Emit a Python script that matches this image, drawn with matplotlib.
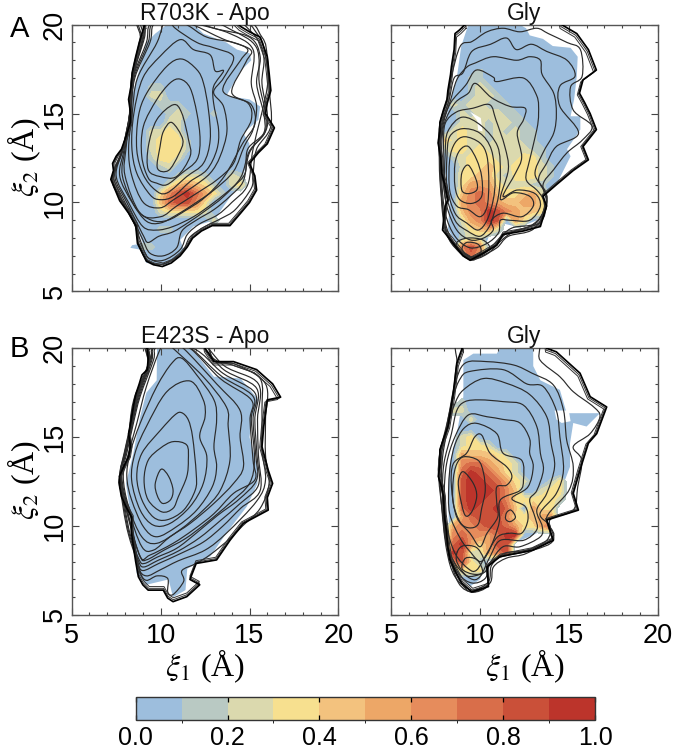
import numpy as np
import matplotlib
matplotlib.use("Agg")
import matplotlib.pyplot as plt
from matplotlib.path import Path
from matplotlib.patches import PathPatch, Polygon
from matplotlib.colors import ListedColormap, BoundaryNorm
from matplotlib.cm import ScalarMappable

plt.rcParams['font.family'] = ['Liberation Sans', 'DejaVu Sans']
plt.rcParams['mathtext.fontset'] = 'stix'

W, H = 677, 751
BIN_COLORS = ['#9DBEDD', '#B9C9C3', '#DBD9AE', '#F7E08F', '#F3C27E',
              '#EDA767', '#E68C5C', '#D96E4A', '#CA5039', '#BC342B']
COLOR_EDGES = [0, .1, .2, .3, .4, .5, .6, .7, .8, .9, 1.0]
COLOR_TICKS = [0, .2, .4, .6, .8, 1.0]
AXIS_TICKS = [5, 10, 15, 20]
TITLES = ['R703K - Apo', 'Gly', 'E423S - Apo', 'Gly']

# ---------- R703K Apo ----------
A1_EDGE = [(9.1,20),(8.95,19.5),(8.8,19),(8.6,18.2),(8.4,17.3),(8.35,16.6),(8.2,15.8),(8.3,15.1),(8.3,14.5),(8.05,13.7),(7.8,13),(7.5,12.6),(7.3,12.2),(7.35,11.8),(7.2,11.3),(7.45,10.7),(7.7,10.1),(8.2,9.4),(8.6,8.7),(8.65,8.2),(8.7,7.7),(8.95,7.2),(9.2,6.7),(9.6,6.5),(10.1,6.4),(10.6,6.6),(11.1,7),(11.5,7.5),(11.8,8),(12.3,8.4),(12.9,8.7),(13.9,8.7),(14.5,9.4),(15,10),(15.4,10.7),(15.3,11.5),(15,12.2),(15.5,12.8),(16,13.3),(16.4,14.2),(15.9,15),(16,15.6),(16.2,16.3),(16.1,17.3),(16,18.2),(15.6,19.3),(15,19.6),(14.5,19.9),(13.9,20.5),(9.1,20.5)]
A1_BLUE = [(10.35,20),(10.7,20),(12,19.9),(12.4,19.5),(13.7,19),(14.3,18.6),(15,18.4),(15.1,18),(14.5,17.4),(13.7,16),(15,15.8),(15.6,15.4),(15.5,14.65),(14.65,13.9),(15,13.3),(14.85,12.2),(14.5,11.1),(13.7,10),(13,9),(11.85,8.65),(11.1,7.9),(11.3,7.35),(10.35,6.5),(9.2,6.6),(8.85,7.35),(8.3,7.45),(8.4,7.6),(9,7.7),(8.65,8.65),(7.9,10.35),(7.35,11.65),(7.9,13),(8.4,14.65),(8.4,16),(8.85,17.65),(9.2,19),(9.7,19.5)]
A1_RINGS = [
 [(10.63,14.5),(11.25,13.53),(11,12.68),(10.44,11.8),(9.82,11.93),(9.97,13.15),(10.16,14)],
 [(10.72,15.5),(11.19,15.03),(11.57,13.53),(11.66,12.6),(10.9,11.46),(9.97,11.46),(9.31,11.84),(9.31,13.15),(9.78,14.65)],
 [(11.1,16.94),(11.66,16.44),(12.04,15.03),(12.22,13.53),(12.04,12.4),(11.19,11.65),(10.35,11),(9.78,11.09),(9.31,11.37),(8.94,12.6),(9.03,14.28),(9.78,15.78),(10.53,16.72)],
 [(11.19,18.07),(12.04,17.47),(12.41,16.72),(12.69,15.22),(12.79,13.53),(12.41,12.21),(11.47,11.46),(10.35,10.53),(9.69,10.71),(9.03,11.56),(8.66,12.96),(8.75,14.84),(9.22,16.15),(10.35,17.66)],
 [(11.1,19.16),(11.85,18.6),(12.79,18.3),(13.07,17.4),(13.54,17.4),(12.98,16.53),(12.98,15.6),(13.26,14.1),(13.16,12.96),(12.6,11.84),(11.66,11.18),(10.72,10.34),(9.97,10.16),(9.41,10.43),(8.66,11.65),(8.38,13.15),(8.5,15.03),(9,17),(9.97,18.22)],
 [(10.81,19.81),(12.04,19.0),(13.0,18.7),(14.1,18.2),(13.54,17.0),(12.98,16.2),(13.54,15.4),(13.73,14.0),(13.35,12.6),(12.79,11.65),(11.85,10.9),(10.72,10.15),(9.97,9.7),(9.03,10),(8.38,11.5),(8.2,13),(8.4,15),(8.7,17),(9.8,19),(10.3,20.4)],
 [(11.47,20),(12.6,19.3),(14.1,19),(14.9,18.6),(14.5,18),(13.5,16.3),(14.9,15.6),(15.1,14.65),(14.5,13.5),(14.1,12.2),(13.2,11.3),(12,10.5),(10.9,9.8),(10,9.2),(8.85,9.4),(8,11.5),(8.05,13),(8.32,15),(8.55,17),(9.4,19),(9.6,20),(10.5,20.4)],
 [(13.6,11.5),(12.5,10.3),(11.4,9.55),(10.4,9),(9.5,9.0),(8.6,9.7),(7.85,11.5),(8,13),(8.3,15),(8.5,17),(9.3,19),(9.5,20),(10.5,20.4),(11.8,20),(13.5,19.2),(15.05,18.6),(14.8,17.9),(14,16.2),(15.1,15.5),(15.3,14.4),(14.6,13.3)],
 [(14.1,11.75),(13,10.7),(12,10),(10.9,9.3),(10,8.85),(9.2,8.95),(8.4,10),(7.7,11.5),(7.95,13),(8.28,15),(8.45,17),(9.2,19),(9.4,20),(10.5,20.4),(12.2,20),(13.9,19.5),(15.2,18.6),(15.1,16.7),(15.4,15.4),(15.2,14.1),(14.7,13.15)],
 [(13,19.8),(15,19.3),(15.6,18.2),(15.4,16.7),(15.8,15),(15.8,13.9),(14.9,13),(14.75,11.65),(14.1,10.9),(13,10),(11.85,9.2),(10.7,8.65),(9.8,8.45),(9,8.65),(8.2,10),(7.5,11.5),(7.88,13),(8.27,15),(8.42,17),(9.1,19.3),(9.2,20.4),(11,20.5)],
 [(14.5,11.4),(13.5,10.3),(12.6,9.6),(11.6,8.9),(10.7,8.35),(9.9,8.1),(9.3,7.75),(9.05,8.1),(8.75,8.7),(8.1,10),(7.42,11.5),(7.86,13),(8.26,15),(8.42,17),(9.05,19.3),(9.2,20.5),(12,20.5),(14,19.7),(15.4,18.7),(15.55,16.7),(15.9,15),(15.85,13.9),(15,12.9)],
 [(14.65,11.2),(13.9,10.35),(13,9.6),(12,9),(11.2,8.4),(10.9,7.45),(10.15,7),(9.4,7.15),(9,7.9),(8.65,8.65),(8,10),(7.35,11.5),(7.85,13),(8.26,15),(8.41,17),(9,19.3),(9.15,20.5),(13.5,20.5),(15.2,19.5),(15.8,18.2),(15.7,16.7),(16,15),(15.9,14),(15,12.8)],
 [(14.9,11),(14,10),(13.2,9.3),(12.2,8.8),(11.5,8.2),(11.1,7.35),(10.15,6.75),(9.3,6.9),(8.85,7.9),(8.6,8.65),(7.9,10),(7.3,11.4),(7.83,12.9),(8.25,14.7),(8.38,17),(8.9,19.2),(9.12,20.5),(14,20.5),(15.5,19.4),(15.9,18.2),(16,16.5),(15.2,13)],
 [(15.1,10.8),(14.2,9.6),(13.4,9.1),(12.5,8.65),(11.65,8.05),(11.2,7.2),(10.15,6.55),(9.25,6.75),(8.75,7.7),(8.6,8.6),(8.1,9.6),(7.7,10.3),(7.28,11.3),(7.82,12.8),(8.22,14.7),(8.36,17),(8.85,19.2),(9.05,20.5),(14.3,20.5),(15.7,19.3),(16,18.2),(16.1,16.5),(16.2,14.3),(15.4,13),(15.2,11.6)],
 ]
A1_WARM = ['',
 '',
 '00011',
 '00022',
 '00001110',
 '00000121001',
 '00000220',
 '00022320',
 '00023331',
 '00023331',
 '00013320',
 '00001200',
 '00000012210021',
 '00000245431023',
 '00003689753100',
 '00004788630000',
 '00002333320',
 '00000000002',
 '00001100',
 '',
 '00110',
 ]

# ---------- R703K Gly ----------
A2_EDGE = [(9.15,20),(8.85,19.7),(8.6,19.5),(8.55,18.6),(8.4,17.65),(8.35,17.2),(8.3,16.9),(8.2,16.3),(8.15,15.8),(7.95,15.2),(7.75,14.5),(7.75,14),(7.65,13.35),(7.8,12.5),(7.85,11.65),(8.05,10.9),(8.2,10.15),(8.05,9.8),(8,9.4),(7.9,8.45),(8.5,7.7),(9.05,7),(9.45,6.75),(10.2,7.15),(10.95,7.6),(11.3,8.2),(12.45,8.4),(13.4,8.65),(13.75,9.8),(13.55,10.35),(14.3,11),(15.25,11.8),(16.1,12.4),(15.8,13.15),(16.55,14.1),(16.2,15),(15.9,15.6),(15.6,16.15),(15.8,16.9),(16.55,17.45),(16.1,18.6),(15.45,19.5),(14.6,20),(14.5,20.5),(9.15,20.5)]
A2_BLUE = [(9.35,20),(8.95,18.8),(8.7,17),(8.4,15.9),(7.95,14.2),(8,12),(8.3,10),(8.2,8.5),(9,7.1),(9.5,6.9),(10.2,7.3),(10.7,8.6),(11.4,8.8),(12.2,8.6),(13.2,9),(13.3,9.9),(13.55,10.35),(14.3,11),(15.1,12.6),(14.9,13),(15.65,14.1),(15.65,14.85),(15.1,14.85),(15.3,15.8),(15.45,17.1),(15.5,18.2),(15.1,18.7),(14.1,18.8),(13.55,19.2),(12.8,19.4),(12.6,19.8),(12.25,20)]
A2_HOLE = [(9.45,15.1),(10.05,14.75),(10.15,14),(9.9,14.05),(9.85,14.6)]
A2_RINGS = [
 [(9.35,12.1),(9.8,11.25),(9.82,10.7),(9.35,10.5),(8.98,10.7),(8.98,11.65)],
 [(9.35,13.15),(9.82,12.4),(10.1,11.45),(10.1,10.35),(9.55,9.95),(8.88,10.15),(8.6,10.9),(8.6,12.2),(8.88,12.95)],
 [(9.15,13.7),(10,13.35),(10.4,12.6),(10.5,11.1),(10.4,9.75),(10,9.2),(9.35,9.6),(8.7,9.8),(8.3,10.7),(8.3,12.4),(8.6,13.35)],
 [(9,14.15),(10,13.9),(10.65,12.96),(10.85,11.3),(10.75,10.15),(10.4,9),(9.9,8.45),(9.25,8.85),(8.6,9.4),(8.15,10.9),(8.15,12.6),(8.3,13.7)],
 [(9,14.8),(10.1,14.3),(11,13.15),(11.15,11.65),(11.05,10.4),(10.8,9.4),(10.5,8.6),(10,8.1),(9.3,8.4),(8.6,9),(8.05,10.7),(8.05,12.8),(8.2,14)],
 [(9.6,15.3),(10.55,15.5),(10.9,14.65),(11.4,13.15),(11.6,11.85),(11.15,10.2),(11.9,10.55),(12.8,10.35),(13,9.8),(12.35,9.2),(11.3,9.4),(10.65,9),(10.75,8.45),(10.2,8),(9.45,7.9),(8.7,8.45),(8.15,9.75),(7.95,11.3),(7.95,13.15),(8.05,14.45),(8.7,15.1)],
 [(9.75,16.7),(10.65,15.9),(11.7,15.4),(12.55,15.3),(12.45,14.65),(12.1,13.9),(12.35,12.55),(12,11.65),(11.3,10.35),(12.1,10.7),(13.1,10.5),(13.4,9.8),(12.8,9),(11.7,9),(11.15,9),(11.05,8.3),(10.4,7.7),(9.45,7.45),(8.6,8.1),(8.05,9.4),(7.85,11.3),(7.85,13.15),(8,14.45),(8.6,15.6),(9.35,16.15)],
 [(9.8,17.45),(10.75,17.05),(10.95,16.8),(12.45,17),(13.2,16),(13.3,15),(13.2,14.1),(12.8,12.4),(12.6,11.3),(13.2,10.7),(13.55,10.2),(13.6,9.6),(13.1,8.8),(11.9,8.6),(11.3,8.2),(10.4,7.3),(9.45,6.95),(8.5,7.8),(8,9.1),(7.8,11.3),(7.78,13.15),(7.95,14.45),(8.35,15.6),(9.2,16.6)],
 [(9.25,17.6),(9.75,17.85),(10.75,18.2),(12.05,18),(12.8,18.2),(13.4,18),(13.5,17.2),(14.15,16.15),(14.3,15),(14.15,13.9),(13.55,12.8),(13.1,11.6),(13.7,10.6),(13.75,9.9),(13.4,8.9),(12,8.4),(11.3,7.95),(10.4,7.1),(9.45,6.85),(8.4,7.7),(7.95,9),(7.78,11.3),(7.75,13.2),(7.9,14.45),(8.3,15.6),(8.7,16.9)],
 [(9.05,17.3),(9.55,18.5),(10.6,18.9),(11.5,19.25),(12.05,18.6),(12.9,18.9),(13.75,18.5),(14.9,18),(15.35,17.1),(14.5,16.55),(14.5,15.4),(15.55,13.9),(14.3,13.15),(13.75,12.2),(13.3,11.3),(13.75,10.35),(13.55,9.4),(12.8,8.65),(11.5,8.25),(10.75,7.5),(10,7),(9.45,6.8),(8.8,7.25),(8.15,8.3),(7.95,9.4),(7.75,11.3),(7.72,13.2),(7.85,14.45),(8.25,15.7),(8.55,17)],
 [(9.55,19.05),(10.4,19.6),(11.3,19.8),(12.25,19.6),(13.2,19.8),(13.85,19.5),(14.9,19),(15.65,18.6),(15.75,17.1),(15.1,16.5),(15.25,15.2),(16.3,14.3),(15.75,13.5),(14.9,12.8),(14.15,11.85),(13.55,11),(13.75,9.8),(13,8.5),(11.6,8.1),(10.95,7.45),(10,6.95),(9.45,6.78),(8.6,7.5),(8.05,8.45),(8.1,9.8),(7.9,11.3),(7.68,13.15),(7.75,14.45),(8.15,15.8),(8.4,17.1),(8.9,18.8)],
 [(9.25,7.75),(9.9,7.65),(10.05,7.2),(9.5,6.95),(9,7.35)],
 [(9.3,8.0),(10.15,7.9),(10.55,7.45),(10,7.1),(9.45,6.9),(8.85,7.3),(8.7,7.75)],
 ]
A2_WARM = [
 '00001',
 '00011',
 '00012100',
 '00012210',
 '02122111',
 '00212221100',
 '00222122110',
 '02322121211',
 '42322122211',
 '13323222221100',
 '01233322233100',
 '00233432333210',
 '00334421333210',
 '00355532221100',
 '00467643345200',
 '00567654455300',
 '00466986544310',
 '00256980530',
 '00134520000',
 '00122',
 '00686',
 '00575',
 ]

# ---------- E423S Apo ----------
B1_EDGE = [(9.25,20),(9.3,19.4),(9.25,18.8),(8.95,18.5),(8.8,18),(8.6,17.4),(8.5,16.9),(8.35,16),(8.2,15.2),(8.3,14.5),(8.2,13.9),(7.95,13.4),(7.68,12.8),(7.7,12.2),(7.8,11.65),(8.05,11.1),(8.37,10.5),(8.35,9.7),(8.47,8.85),(8.6,8),(8.75,7.15),(9,6.7),(9.3,6.4),(10.15,6.4),(10.4,5.95),(10.7,5.75),(11.47,6.03),(12.2,6.7),(11.65,7),(12,7.9),(13.15,8.1),(13.9,9.2),(14.65,10.15),(16.05,10.9),(16,11.6),(16.3,12.4),(16.05,13.15),(15.7,14.47),(15.8,15.6),(16,17.1),(16.75,17.25),(16.3,18),(15.4,18.8),(14.1,19.25),(13,19.25),(12.5,20),(12.4,20.5),(9.25,20.5)]
B1_BLUE = [(9.8,20),(11.75,20),(13,18.4),(13.25,18.4),(14.5,18.3),(15.5,17.1),(15.15,16.15),(15,15),(15.45,13.34),(15.45,12.4),(14.85,11.1),(13.7,9.6),(12.8,8.3),(11.5,7.6),(11.4,6.4),(10.7,6),(10.45,7),(9.2,6.7),(8.65,7.35),(8.55,8.65),(8.3,10.7),(8.05,12.4),(8.47,14.1),(8.85,16.15),(9.2,17.5),(9.78,18.2)]
B1_RINGS = [
 [(10.03,13.2),(10.45,12.8),(10.7,12.03),(10.55,11.47),(10.1,11.28),(9.8,11.75),(9.7,12.4)],
 [(10.7,14.75),(11.47,14.56),(11.56,13.72),(11.47,12.78),(11,11.66),(10.7,11),(10.07,10.8),(9.3,11.47),(9.07,12.6),(9.3,13.7),(9.97,14.37)],
 [(11.18,16.38),(11.56,15.97),(11.8,15),(12,13),(11.95,12.03),(11.3,10.9),(10.35,10.35),(9.6,10.5),(8.95,11.47),(8.66,12.78),(8.95,14.1),(10,15.4),(10.8,16.25)],
 [(11.66,18.16),(12.4,17.1),(12.5,16.15),(12.2,15.03),(12.6,13.9),(12.4,12.4),(11.66,11.1),(10.53,10.15),(9.6,10.05),(8.85,10.9),(8.37,12.6),(8.56,14.1),(9.2,15.6),(10.35,17.56)],
 [(11.19,19.44),(12.03,18.5),(13,17.1),(13.15,15.97),(13,14.47),(13.15,13.34),(12.9,12.2),(12.03,10.9),(10.9,9.97),(9.78,9.4),(9.03,9.97),(8.37,11.47),(8.1,12.78),(8.28,14.1),(8.85,15.78),(9.78,17.84),(10.63,19.16)],
 [(10.7,20),(12.4,18.4),(13.7,16.7),(13.8,15.6),(13.9,13.7),(13.35,12),(12.4,10.9),(11.1,9.8),(9.78,9.03),(8.94,9.4),(8.2,11.1),(7.9,12.8),(8.2,14.1),(8.66,15.78),(9.2,17.84),(10,20),(10.4,20.3)],
 [(11.28,20),(13.15,18),(14.47,16.5),(14.47,15),(14.66,13.34),(14.1,12.4),(13,11.28),(11.66,10.15),(10.53,9.4),(9.6,8.65),(8.94,8.85),(8.2,10.9),(7.82,12.8),(8.1,14.1),(8.47,15.78),(8.85,17.3),(9.6,19.34),(9.7,20),(10.5,20.4)],
 [(11.66,20),(13.35,18.3),(15.1,17.1),(15.03,15.97),(15.2,13.7),(15.3,12.6),(14.1,11.84),(13,10.7),(11.85,9.8),(10.7,9.03),(9.4,8.37),(8.85,8.28),(8.2,10.6),(7.77,12.8),(8.05,14.1),(8.42,15.8),(8.8,17.3),(9.5,19.3),(9.6,20),(10.5,20.4)],
 [(15,12.4),(13.9,11.3),(12.6,10.2),(11.4,9.3),(10.2,8.65),(9.2,8.1),(8.85,8.3),(8.25,10.2),(7.75,12.8),(8.02,14.1),(8.4,15.8),(8.75,17.3),(9.45,19.3),(9.55,20),(10.5,20.4),(11.7,20),(13.4,18.45),(15.2,17.3),(15.1,16),(15.28,13.8)],
 [(15.4,12.6),(14.4,11.5),(13.2,10.6),(12,9.6),(10.9,8.75),(9.8,8.25),(9.1,7.9),(8.8,8.1),(8.3,9.5),(8,11),(7.73,12.8),(8,14.1),(8.38,15.8),(8.7,17.3),(9.4,19.3),(9.5,20),(11.8,20),(13.5,18.6),(15.3,17.5),(15.2,16),(15.35,14)],
 [(15.5,12.3),(14.45,11.25),(13.35,10.3),(12.2,9.35),(11,8.6),(9.85,8.07),(9.05,7.7),(8.75,8.05),(8.25,9.5),(7.95,11),(7.71,12.8),(7.97,14.1),(8.35,15.8),(8.67,17.3),(9.37,19.3),(9.46,20.4),(11.9,20.4),(13.55,18.8),(15.4,17.75),(15.3,16),(15.42,14)],
 [(15.6,12),(14.5,11),(13.5,10),(12.4,9.1),(11,8.4),(9.9,7.9),(9,7.5),(8.7,8),(8.2,9.5),(7.9,11),(7.7,12.8),(7.95,14.1),(8.33,15.8),(8.65,17.3),(9.35,19.3),(9.42,20.5),(12,20.5),(13.6,19),(15.5,18),(15.45,16),(15.5,14)],
 [(15.4,11.4),(13.7,9.6),(12.5,8.65),(11,8.05),(10,7.55),(9.2,7.2),(8.75,7.7),(8.45,9.5),(8.1,10.8),(7.72,12.2),(7.75,12.9),(8.25,14.2),(8.3,15.8),(8.6,17.3),(9.3,19),(9.35,20.5),(12.2,20.5),(13,19.4),(14.2,19),(15.6,18.3),(15.7,16.5),(15.7,14.3),(15.9,12.6)],
 [(13.9,9.3),(12.8,8.4),(12,7.9),(11.2,7.5),(11.3,6.9),(10.7,6.15),(10.4,6.3),(10.4,7.05),(9.8,7.2),(9.2,6.95),(8.85,7.4),(8.55,8.7),(8.3,10.8),(7.7,12.2),(7.72,12.8),(8.22,14),(8.28,15.8),(8.55,17.3),(9.3,19),(9.3,20.5),(12.3,20.5),(13,19.3),(14.2,19.1),(15.9,18),(15.9,16),(15.9,14),(16.1,12.4),(15.6,11),(14.6,10)],
 ]

# ---------- E423S Gly ----------
B2_EDGE = [(9,20),(8.7,19.16),(8.6,18.3),(8.5,17.47),(8.35,16.5),(8.2,15.6),(7.95,14.9),(7.75,14.3),(7.75,13.5),(7.66,12.8),(7.85,12.2),(7.95,11.66),(8,10.6),(8.13,9.6),(8.2,8.8),(8.32,8.1),(8.65,7.4),(8.98,6.8),(9.54,6.3),(10.48,6.6),(10.4,7.7),(11.13,8.28),(12.97,8.65),(14.13,9.2),(13.76,10.34),(15.54,10.9),(15.25,11.84),(15.63,13.16),(16.1,14.66),(16.57,15.2),(17.13,16.7),(16.2,17.28),(15.63,18.6),(14.3,19.8),(13.76,20),(13.7,20.5),(9,20.5)]
B2_BLUE = [(11.13,20),(13,20),(13,19),(13.4,18.2),(14.5,17.66),(14.88,16.35),(16.75,16.35),(16,15.6),(15.25,15.8),(15.07,14.66),(15.07,13.34),(14.5,11.84),(13.4,10.8),(13.2,9.6),(11.5,8.84),(10.57,8.47),(10,7),(9.45,6.6),(8.9,7.15),(8.3,8.84),(8.2,11.84),(8.3,13.5),(8.7,15.2),(9.07,17.3),(9.07,19.34),(9.63,19.7),(10.95,19.7)]
B2_HOLE = [(14.2,16.5),(15.0,16.5),(15.1,15.9),(14.6,15.8),(14.3,16)]
B2_RINGS = [
 [(9.07,13.06),(9.63,12.4),(9.82,11.66),(9.54,10.8),(9.16,10.62),(8.85,11.84),(8.8,12.6)],
 [(9.1,13.9),(9.9,13.7),(10.2,13),(10.3,12),(10.1,11),(9.9,10.1),(9.4,9.9),(8.9,10.2),(8.5,11.3),(8.5,12.6),(8.7,13.5)],
 [(10.1,15.12),(10.57,14.1),(11.5,13.34),(11.8,12.78),(11.5,12.3),(10.95,12.2),(10.95,11.28),(11,10.5),(10.4,9.6),(10,8.84),(9.44,9.6),(8.7,10.5),(8.4,12.2),(8.5,13.5),(9.25,14.1),(9.7,15)],
 [(11.5,10.75),(11.75,10.9),(12,10.5),(11.7,10.25),(11.45,10.4)],
 [(9.82,15.78),(10.95,15.2),(11.3,14.1),(12.35,13.7),(12.45,12.6),(12.25,12),(11.15,11.47),(11.1,10.3),(10.8,9.3),(10.4,8.4),(10,8),(9.5,8.5),(8.9,9.3),(8.3,10.7),(8.25,12.3),(8.35,13.5),(8.6,14.6),(9.1,15.5)],
 [(9.35,16.25),(10.4,16.15),(11.3,16),(12.25,15.8),(12.8,14.9),(12.8,14.1),(13,13.34),(12.7,12.2),(11.8,11.56),(12.55,11.1),(12.7,10.35),(12.35,9.6),(11.7,9.6),(11,9.4),(10.4,8.47),(9.82,7.53),(9.35,7.6),(8.6,8.47),(8.13,10),(8,11.84),(8.13,13.53),(8.6,15.03)],
 [(9.16,17),(10,17.1),(11.3,17),(12.45,16.8),(13.2,15.6),(13.4,14.1),(13.57,13.16),(13.2,12),(12.8,11.47),(13.1,10.5),(13.2,9.8),(12.45,9.2),(11.15,9.2),(10.57,8.28),(10,7.15),(9.45,7.06),(8.6,7.9),(8.04,9.4),(7.9,11.84),(7.98,13.53),(8.4,15.2),(8.7,16.5)],
 [(9.07,17.66),(10.2,18.3),(11.5,18.03),(12.8,17.4),(13.76,16.15),(14,14.66),(14.2,13.34),(13.76,11.84),(13.2,10.9),(13.5,10),(13.4,9.4),(12.25,8.84),(11.3,8.84),(10.57,7.9),(10.3,7.06),(9.55,6.8),(8.8,7.34),(8.17,8.84),(7.95,11.1),(7.85,13.34),(8.2,15.6),(8.6,16.9)],
 [(8.9,18.3),(9.44,18.7),(11.3,18.8),(12.63,18),(13.57,17.84),(14.3,16.5),(14.5,15),(14.7,13.16),(14.3,11.84),(13.38,10.7),(13.94,10),(13.76,9.2),(12.63,8.65),(11.4,8.47),(10.66,7.8),(10.48,6.87),(9.54,6.4),(8.6,7.15),(8.13,8.65),(7.85,11.1),(7.75,13.34),(8.13,15.6),(8.5,17.3)],
 [(9.16,19.16),(10.4,19.25),(11.9,19.06),(12.93,18.6),(14.13,17.94),(14.7,16.53),(14.88,14.84),(15.25,13.34),(15,12),(13.76,10.5),(14.13,9.4),(12.63,8.47),(11.5,8.2),(10.76,7.7),(10.57,6.8),(9.63,6.3),(8.8,6.8),(8.2,8.65),(7.95,10.3),(7.68,12.8),(7.75,14.1),(8.2,16),(8.6,18)],
 [(9,20.5),(13,20.5),(13.38,19.34),(14.5,18.4),(15.25,17.56),(16.4,16.7),(16.75,16.15),(16.2,15.2),(15.25,14.47),(15.73,13.7),(15.5,12.2),(15.25,10.9),(13.94,10.35),(14.13,9.2),(13,8.65),(11.13,8.25),(10.4,7.7),(10.45,6.65),(9.54,6.28),(8.95,6.8),(8.3,8.1),(8.1,9.6),(7.92,11.66),(7.68,12.8),(7.77,14.3),(8.2,15.6),(8.5,17.47),(8.7,19.16)],
 [(9.2,8.2),(9.85,8.1),(10.15,7.4),(9.6,7.3),(9,7.6)],
 [(9.1,8.9),(9.8,8.8),(10.2,8.2),(10.35,7.5),(9.7,7.2),(9.2,7.25),(8.7,8),(8.75,8.6)],
 ]
B2_WARM = [
 '',
 '00100',
 '02200',
 '00020',
 '',
 '00230',
 '00233200',
 '00544432',
 '006775432',
 '0079875320',
 '00899875320013',
 '008999864002330',
 '00899886333332',
 '0079889740533',
 '00578886334550',
 '05667887533570',
 '067665799',
 '079535880',
 '09822568',
 '06831',
 '00333',
 '',
 ]

GRID_X = np.arange(8, 15.01, 0.5)
GRID_Y = np.arange(17.5, 6.49, -0.5)
PANEL_BOXES = [(71.7, 24.7), (391, 24.7), (71.7, 348.3), (391, 348.3)]
SIDE = 266.7
PANEL_DATA = [(A1_EDGE, A1_BLUE, A1_RINGS, A1_WARM, None),
              (A2_EDGE, A2_BLUE, A2_RINGS, A2_WARM, A2_HOLE),
              (B1_EDGE, B1_BLUE, B1_RINGS, None, None),
              (B2_EDGE, B2_BLUE, B2_RINGS, B2_WARM, B2_HOLE)]


def smooth_ring(pts):
    p = np.asarray(pts, float)
    n = len(p)
    verts, codes = [p[0]], [Path.MOVETO]
    for i in range(n):
        p0, p1, p2, p3 = p[i-1], p[i], p[(i+1) % n], p[(i+2) % n]
        verts += [p1 + (p2-p0)/6, p2 - (p3-p1)/6, p2]
        codes += [Path.CURVE4]*3
    return Path(verts, codes)


def warm_field(rows):
    z = np.zeros((len(GRID_Y), len(GRID_X)))
    for r, row in enumerate(rows):
        for c, ch in enumerate(row[:len(GRID_X)]):
            d = int(ch)
            z[r, c] = d/10 + 0.05 if d else 0
    return z


fig = plt.figure(figsize=(W/100, H/100), dpi=100)
cmap = ListedColormap(BIN_COLORS)
norm = BoundaryNorm(COLOR_EDGES, cmap.N)

for i, ((px, py), (edge, blue, rings, warm, hole)) in enumerate(zip(PANEL_BOXES, PANEL_DATA)):
    ax = fig.add_axes([px/W, 1-(py+SIDE)/H, SIDE/W, SIDE/H])
    ax.set_xlim(5, 20); ax.set_ylim(5, 20)
    ax.add_patch(Polygon(blue, closed=True, fc=BIN_COLORS[0], ec='none', zorder=1))
    if warm is not None:
        cs = ax.contourf(GRID_X, GRID_Y, warm_field(warm), levels=COLOR_EDGES[1:],
                         colors=BIN_COLORS[1:], zorder=2)
        cs.set_clip_path(Polygon(edge, closed=True, transform=ax.transData))
    if hole is not None:
        ax.add_patch(Polygon(hole, closed=True, fc='white', ec='none', zorder=3))
    for ring in rings:
        ax.add_patch(PathPatch(smooth_ring(ring), fc='none', ec='#2b2b2b', lw=0.85, zorder=4))
    e = np.asarray(edge)
    ctr = np.array([11.5, 13.0])
    for f in (0.985, 0.97):
        ax.plot(*np.vstack([ctr+(e-ctr)*f, (ctr+(e-ctr)*f)[:1]]).T, color='#333333', lw=0.7, zorder=4)
    ax.plot(*np.vstack([e, e[:1]]).T, color='black', lw=1.25, zorder=5)

    ax.set_xticks(AXIS_TICKS); ax.set_yticks(AXIS_TICKS)
    ax.set_xticks(range(5, 21), minor=True); ax.set_yticks(range(5, 21), minor=True)
    ax.tick_params(which='major', direction='in', length=5, width=0.8, top=True, right=True, color='#444444',
                   labelsize=19.5, pad=3)
    ax.tick_params(axis='x', which='major', pad=6)
    ax.tick_params(which='minor', direction='in', length=2.5, width=0.8, top=True, right=True, color='#444444')
    for s in ax.spines.values():
        s.set_color('#555555'); s.set_linewidth(1.0)
    ax.tick_params(labelbottom=i >= 2, labelleft=i % 2 == 0)
    if i % 2 == 0:
        for t in ax.get_yticklabels():
            t.set_rotation(90); t.set_va('center')
    fig.text((px+SIDE/2)/W, 1-(py-11.5)/H, TITLES[i], ha='center', va='center', fontsize=16.5, color='#111111')

SERIF = ['Liberation Serif', 'DejaVu Serif']
for x in (205, 525):
    fig.text(x/W, 1-666/H, r'$\xi_1$ (Å)', ha='center', va='center', fontsize=23, family=SERIF)
for y in (157, 480):
    fig.text(24/W, 1-y/H, r'$\xi_2$ (Å)', ha='center', va='center', rotation=90, fontsize=23, family=SERIF)
fig.text(20/W, 1-29/H, 'A', ha='center', va='center', fontsize=21)
fig.text(19/W, 1-349/H, 'B', ha='center', va='center', fontsize=21)

cax = fig.add_axes([135.7/W, 1-720/H, 459.3/W, 23/H])
cb = fig.colorbar(ScalarMappable(norm=norm, cmap=cmap), cax=cax, orientation='horizontal',
                  ticks=COLOR_TICKS, spacing='proportional')
cb.ax.set_xticklabels([f'{v:.1f}' for v in COLOR_TICKS])
cb.ax.tick_params(direction='in', length=3.5, width=0.9, top=True, labelsize=18, pad=4, color='black')
cb.outline.set_linewidth(1.0); cb.outline.set_edgecolor('#333333')

fig.savefig('out.png', dpi=100)
